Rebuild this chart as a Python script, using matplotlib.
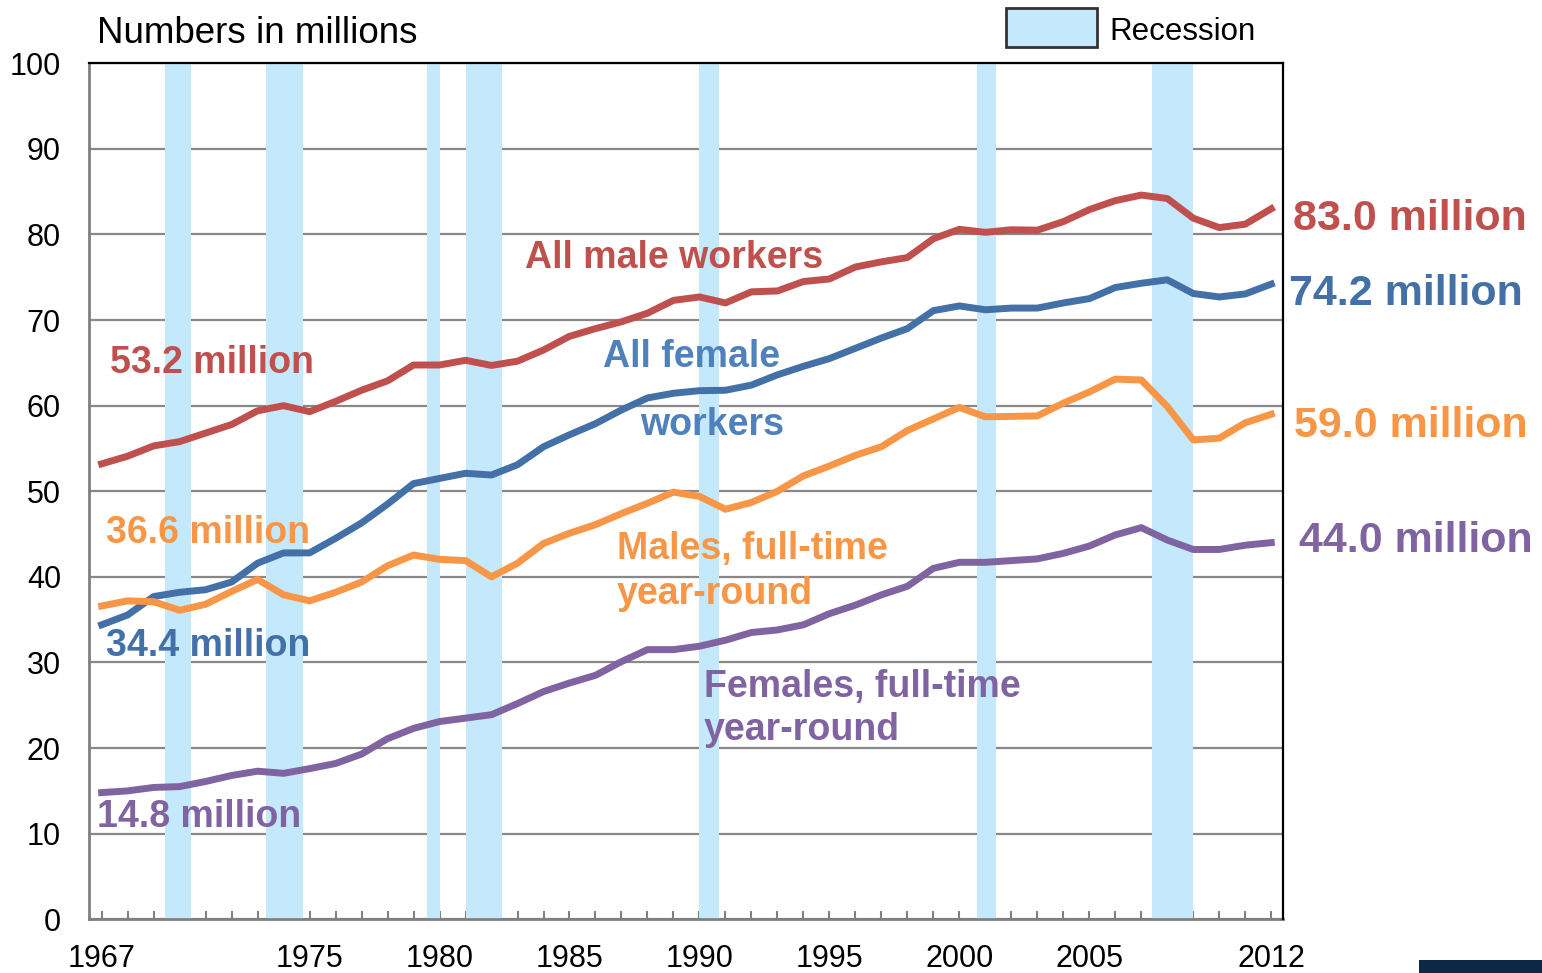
import numpy as np
import matplotlib
matplotlib.use('Agg')
import matplotlib.pyplot as plt
from matplotlib.patches import Rectangle

plt.rcParams['font.family'] = ['Liberation Sans', 'DejaVu Sans']

years = np.arange(1967, 2013)

male_all = [53.2, 54.1, 55.3, 55.8, 56.8, 57.8, 59.4, 60.0, 59.3, 60.5,
            61.8, 62.9, 64.75, 64.75, 65.3, 64.7, 65.2, 66.5, 68.1, 69.0,
            69.8, 70.8, 72.3, 72.7, 72.0, 73.3, 73.4, 74.5, 74.8, 76.2,
            76.8, 77.3, 79.5, 80.6, 80.25, 80.55, 80.5, 81.5, 82.9, 83.95,
            84.6, 84.2, 81.9, 80.8, 81.2, 83.0]
female_all = [34.4, 35.55, 37.7, 38.2, 38.5, 39.4, 41.6, 42.8, 42.8, 44.5,
              46.3, 48.5, 50.9, 51.5, 52.1, 51.9, 53.1, 55.2, 56.6, 57.9,
              59.5, 60.9, 61.45, 61.75, 61.8, 62.4, 63.6, 64.6, 65.5, 66.7,
              67.9, 69.0, 71.1, 71.65, 71.2, 71.4, 71.4, 72.0, 72.5, 73.8,
              74.3, 74.7, 73.1, 72.7, 73.05, 74.2]
male_ft = [36.6, 37.2, 37.1, 36.1, 36.8, 38.3, 39.7, 37.9, 37.2, 38.2,
           39.4, 41.3, 42.55, 42.05, 41.9, 40.0, 41.6, 43.9, 45.1, 46.1,
           47.4, 48.6, 49.9, 49.4, 47.9, 48.7, 50.0, 51.8, 52.95, 54.2,
           55.2, 57.1, 58.45, 59.8, 58.7, 58.75, 58.8, 60.3, 61.6, 63.1,
           63.0, 59.9, 56.0, 56.2, 58.0, 59.0]
female_ft = [14.8, 15.0, 15.4, 15.5, 16.1, 16.8, 17.3, 17.05, 17.6, 18.2,
             19.3, 21.1, 22.3, 23.1, 23.5, 23.9, 25.2, 26.6, 27.6, 28.5,
             30.1, 31.5, 31.5, 31.9, 32.6, 33.5, 33.8, 34.4, 35.7, 36.7,
             37.9, 38.9, 41.0, 41.7, 41.7, 41.9, 42.1, 42.75, 43.6, 44.9,
             45.75, 44.3, 43.2, 43.2, 43.7, 44.0]

# recession shading, start/end in year-axis units
recessions = [(1969.42, 1970.42), (1973.33, 1974.75), (1979.5, 1980.0),
              (1981.0, 1982.42), (1990.0, 1990.75), (2000.67, 2001.42),
              (2007.42, 2009.0)]

tick_years = [1967, 1975, 1980, 1985, 1990, 1995, 2000, 2005, 2012]

red = '#C0504D'
blue = '#4470A8'
blue_txt = '#4F81BD'
orange = '#F79646'
purple = '#8064A2'
band = '#C5E9FC'

fig = plt.figure(figsize=(15.42, 9.73), dpi=100)
ax = fig.add_axes([0.0575, 0.0552, 0.7745, 0.8798])

ax.set_xlim(1966.5, 2012.45)
ax.set_ylim(0, 100)

ax.set_yticks(np.arange(0, 101, 10))
ax.yaxis.grid(True, color='#888888', linewidth=1.6, zorder=0)
ax.set_axisbelow(True)

for s, e in recessions:
    ax.axvspan(s, e, color=band, lw=0, zorder=1)

ax.plot(years, male_all, color=red, lw=5, zorder=3)
ax.plot(years, female_all, color=blue, lw=5, zorder=3)
ax.plot(years, male_ft, color=orange, lw=5, zorder=3)
ax.plot(years, female_ft, color=purple, lw=5, zorder=3)

ax.set_xticks(years, minor=True)
ax.set_xticks(tick_years)
ax.set_xticklabels([str(y) for y in tick_years])
ax.tick_params(axis='x', which='both', direction='in', length=6, width=1.5,
               color='#808080', labelsize=22, pad=18)
ax.tick_params(axis='y', length=0, labelsize=22, pad=20)

for side in ['left', 'bottom']:
    ax.spines[side].set_color('#808080')
    ax.spines[side].set_linewidth(2)
for side in ['top', 'right']:
    ax.spines[side].set_color('black')
    ax.spines[side].set_linewidth(1.6)
    ax.spines[side].set_zorder(4)

lab = dict(fontsize=27, fontweight='bold', va='baseline', ha='left')
big = dict(fontsize=31, fontweight='bold', va='baseline', ha='left', clip_on=False)

ax.text(1967.32, 63.8, '53.2 million', color=red, **lab)
ax.text(1967.17, 43.9, '36.6 million', color=orange, **lab)
ax.text(1967.17, 30.7, '34.4 million', color=blue, **lab)
ax.text(1966.82, 10.75, '14.8 million', color=purple, **lab)

ax.text(1983.28, 76.05, 'All male workers', color=red, **lab)
ax.text(1986.29, 64.5, 'All female', color=blue_txt, **lab)
ax.text(1987.70, 56.6, 'workers', color=blue_txt, **lab)
ax.text(1986.81, 42.05, 'Males, full-time', color=orange, **lab)
ax.text(1986.81, 36.8, 'year-round', color=orange, **lab)
ax.text(1990.17, 26.0, 'Females, full-time', color=purple, **lab)
ax.text(1990.17, 20.9, 'year-round', color=purple, **lab)

ax.text(2012.83, 80.5, '83.0 million', color=red, **big)
ax.text(2012.70, 71.75, '74.2 million', color=blue, **big)
ax.text(2012.86, 56.3, '59.0 million', color=orange, **big)
ax.text(2013.05, 42.95, '44.0 million', color=purple, **big)

W, H = 1542, 973
fig.text(97 / W, 1 - 43 / H, 'Numbers in millions', fontsize=26.5, va='baseline', ha='left')

# legend box for recession
fig.add_artist(Rectangle((1006 / W, 1 - 47 / H), 91 / W, 39 / H, transform=fig.transFigure,
                         facecolor=band, edgecolor='#333333', lw=2))
fig.text(1109 / W, 1 - 40 / H, 'Recession', fontsize=22.5, va='baseline', ha='left')

# logo fragment bottom right
fig.add_artist(Rectangle((1419 / W, 0), 123 / W, 13 / H, transform=fig.transFigure,
                         facecolor='#0D2847', edgecolor='none'))

fig.savefig('out.png', dpi=100)
